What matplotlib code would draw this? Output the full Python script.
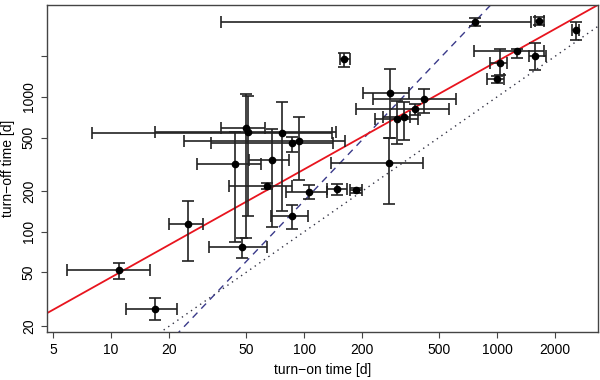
import numpy as np
import matplotlib
matplotlib.use("Agg")
import matplotlib.pyplot as plt
from matplotlib.ticker import FixedLocator, FixedFormatter, NullLocator

plt.rcParams['font.family'] = ['Liberation Sans', 'DejaVu Sans']

# turn-on time [d] (value, lower, upper)
x_val = [11.0, 16.9, 25.0, 47.7, 86.5, 106, 148, 186, 64.2,
         50, 51.2, 76.8, 86.5, 94, 68, 43.8,
         161, 279, 274, 418, 377, 329, 303,
         768, 1648, 2563, 1268, 1565, 1035, 998]
x_lo = [5.9, 11.9, 20.0, 32.1, 67.5, 80.5, 131, 173, 40.8,
        37.1, 16.9, 8.0, 32.9, 23.8, 52, 27.9,
        153, 201, 138, 227, 186, 256, 234,
        37.1, 1565, 2460, 756, 1470, 917, 888]
x_hi = [15.9, 22.0, 29.9, 64.0, 104.5, 131, 166, 199, 86.5,
        62.6, 146, 140, 141, 162, 83.5, 59.8,
        173, 349, 413, 612, 563, 354, 390,
        1499, 1742, 2660, 1750, 1790, 1125, 1087]
# turn-off time [d] (value, lower, upper)
y_val = [52, 26.7, 114, 77, 131, 197, 208, 204, 218,
         586, 546, 538, 454, 470, 339, 317,
         1900, 1066, 322, 960, 810, 706, 682,
         3572, 3640, 3126, 2178, 2022, 1776, 1352]
y_lo = [44.6, 22.2, 60.6, 63.8, 105, 174, 187, 195, 208,
        89.8, 131, 142, 388, 241, 108, 84,
        1660, 492, 160, 758, 740, 477, 447,
        3336, 3400, 2660, 1937, 1578, 1446, 1262]
y_hi = [58.6, 32.2, 169, 89.8, 157, 222, 226, 213, 229,
        1052, 1013, 912, 502, 706, 574, 546,
        2100, 1604, 492, 1138, 880, 912, 940,
        3820, 3900, 3572, 2254, 2500, 2254, 1422]

# model lines: y = A * x**k
fit_A, fit_k = 7.3, 0.80          # red fit
steep_A, steep_k = 0.17, 1.5      # dashed line
x_ticks = [5, 10, 20, 50, 100, 200, 500, 1000, 2000]
y_ticks = [20, 50, 100, 200, 500, 1000, 2000]
y_tick_labels = ['20', '50', '100', '200', '500', '1000', '']

xv = np.array(x_val); yv = np.array(y_val)
xerr = [xv - np.array(x_lo), np.array(x_hi) - xv]
yerr = [yv - np.array(y_lo), np.array(y_hi) - yv]

fig = plt.figure(figsize=(6, 3.8), dpi=100)
ax = fig.add_axes([47/600, 1-332/380, 551/600, 327/380])
ax.set_xscale('log'); ax.set_yscale('log')
xmin, xmax = 4.65, 3337
ymin, ymax = 18.1, 4800
ax.set_xlim(xmin, xmax); ax.set_ylim(ymin, ymax)

xx = np.logspace(np.log10(xmin), np.log10(xmax), 200)
ax.plot(xx, xx, color='#333344', lw=1.0, ls=(0, (1, 3)), zorder=1)
ax.plot(xx, steep_A * xx**steep_k, color='#3a3a8a', lw=1.0, ls=(0, (5, 4)), zorder=1)
ax.plot(xx, fit_A * xx**fit_k, color='#e8141e', lw=1.3, zorder=2)

ax.errorbar(xv, yv, xerr=xerr, yerr=yerr, fmt='o', color='black', ms=4.5,
            ecolor='#222222', elinewidth=1.2, capsize=4, capthick=1.2, zorder=3)

ax.xaxis.set_major_locator(FixedLocator(x_ticks))
ax.xaxis.set_major_formatter(FixedFormatter([str(t) for t in x_ticks]))
ax.yaxis.set_major_locator(FixedLocator(y_ticks))
ax.yaxis.set_major_formatter(FixedFormatter(y_tick_labels))
ax.xaxis.set_minor_locator(NullLocator()); ax.yaxis.set_minor_locator(NullLocator())
ax.tick_params(axis='both', direction='out', length=4, width=0.8, color='#444444',
               labelsize=10, pad=4)
ax.tick_params(axis='y', labelrotation=90)
for lab in ax.get_yticklabels():
    lab.set_va('center')
for s in ax.spines.values():
    s.set_color('#444444'); s.set_linewidth(1.0)

ax.set_xlabel('turn\u2212on time [d]', fontsize=10)
ax.set_ylabel('turn\u2212off time [d]', fontsize=10)
ax.xaxis.set_label_coords(0.5, -0.095)
ax.yaxis.set_label_coords(-0.058, 0.5)

fig.savefig('out.png', dpi=100)
